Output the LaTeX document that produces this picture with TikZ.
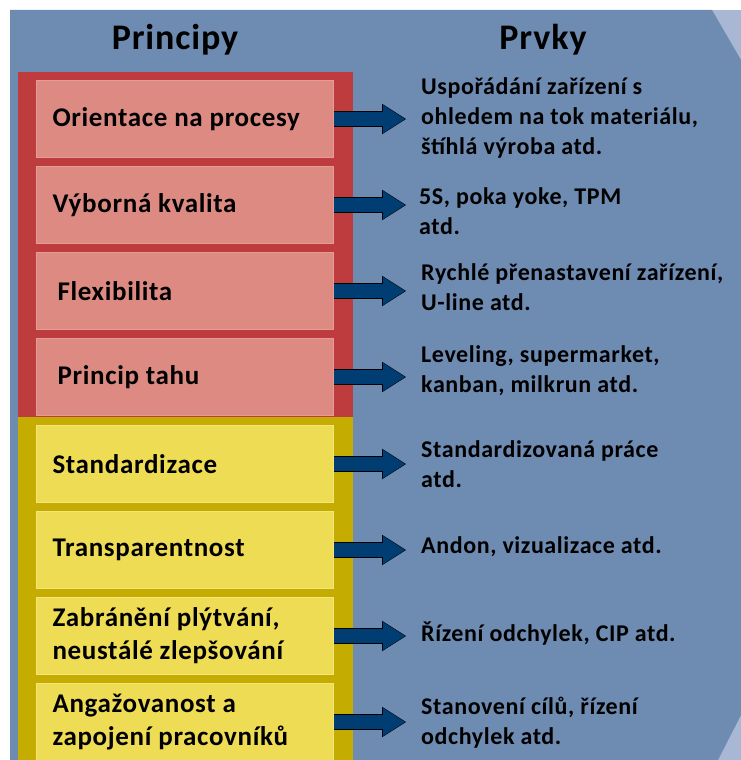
\documentclass[tikz,border=0pt]{standalone}
\usepackage{fontspec}
\setmainfont{Carlito}[LetterSpace=2.5]
\usepackage{xcolor}
\usepackage{tikz}
\usetikzlibrary{arrows.meta,positioning}

\definecolor{bgblue}{HTML}{6E8BB2}
\definecolor{bglight}{HTML}{A8B8D4}
\definecolor{redframe}{HTML}{BE3C3E}
\definecolor{redbox}{HTML}{DC8A82}
\definecolor{redline}{HTML}{E49C94}
\definecolor{yelframe}{HTML}{C4AC00}
\definecolor{yelbox}{HTML}{EFDC55}
\definecolor{yelline}{HTML}{F3E47E}
\definecolor{arrblue}{HTML}{003D73}

\begin{document}
\begin{tikzpicture}[x=1pt,y=-1pt,
  princ/.style={rectangle,anchor=north west,text width=265pt,inner xsep=16pt,inner ysep=0pt,
    minimum height=77pt,align=flush left,line width=1pt,font=\fontsize{27}{33}\selectfont\bfseries},
  redp/.style={princ,fill=redbox,draw=redline},
  yelp/.style={princ,fill=yelbox,draw=yelline},
  prvek/.style={anchor=west,inner sep=0pt,align=flush left,font=\fontsize{24}{30}\selectfont\bfseries},
  head/.style={font=\fontsize{36}{40}\selectfont\bfseries},
  flow/.style={line width=13.5pt,draw=arrblue,shorten >=16pt,
    -{Triangle[length=22pt,width=28pt,line width=0pt]},
    preaction={draw=black,line width=15.5pt,shorten >=15pt,
      -{Triangle[length=24pt,width=30.5pt,line width=0pt]}}}]
\useasboundingbox (0,0) rectangle (741,760);
\fill[white] (0,0) rectangle (741,760);
\fill[bglight] (10,10) rectangle (741,760);
\fill[bgblue] (10,10) -- (712,10) -- (741,60) -- (741,715) -- (718,760) -- (10,760) -- cycle;
\fill[redframe] (18,72) rectangle (353,417);
\fill[yelframe] (18,417) rectangle (353,760);

\node[head] (hprinc) at (175,40) {Principy};
\node[head] (hprvky) at (543,40) {Prvky};

% principy
\node[redp] (p1) at (36,80) {Orientace na procesy};
\node[redp,below=8pt of p1] (p2) {Výborná kvalita};
\node[redp,below=8pt of p2] (p3) {\hspace*{5pt}Flexibilita};
\node[redp,below=8pt of p3] (p4) {\hspace*{5pt}Princip tahu};
\node[yelp] (p5) at (36,425) {Standardizace};
\node[yelp,below=8pt of p5] (p6) {Transparentnost};
\node[yelp,below=8pt of p6] (p7) {Zabránění plýtvání,\\neustálé zlepšování};
\node[yelp,below=8pt of p7] (p8) {Angažovanost a\\zapojení pracovníků};

% prvky
\node[prvek] (e1) at (421,118) {Uspořádání zařízení s\\ohledem na tok materiálu,\\štíhlá výroba atd.};
\node[prvek] (e2) at (419,211) {5S, poka yoke, TPM\\atd.};
\node[prvek] (e3) at (421,287) {Rychlé přenastavení zařízení,\\U-line atd.};
\node[prvek] (e4) at (421,371) {Leveling, supermarket,\\kanban, milkrun atd.};
\node[prvek] (e5) at (421,464) {Standardizovaná práce\\atd.};
\node[prvek] (e6) at (421,547) {Andon, vizualizace atd.};
\node[prvek] (e7) at (421,634) {Řízení odchylek, CIP atd.};
\node[prvek] (e8) at (421,723) {Stanovení cílů, řízení\\odchylek atd.};

\draw[flow] (p1.east) -- (p1.east -| e1.west);
\draw[flow] (p2.east) -- (p2.east -| e1.west);
\draw[flow] (p3.east) -- (p3.east -| e1.west);
\draw[flow] (p4.east) -- (p4.east -| e1.west);
\draw[flow] (p5.east) -- (p5.east -| e1.west);
\draw[flow] (p6.east) -- (p6.east -| e1.west);
\draw[flow] (p7.east) -- (p7.east -| e1.west);
\draw[flow] (p8.east) -- (p8.east -| e1.west);
\end{tikzpicture}
\end{document}
